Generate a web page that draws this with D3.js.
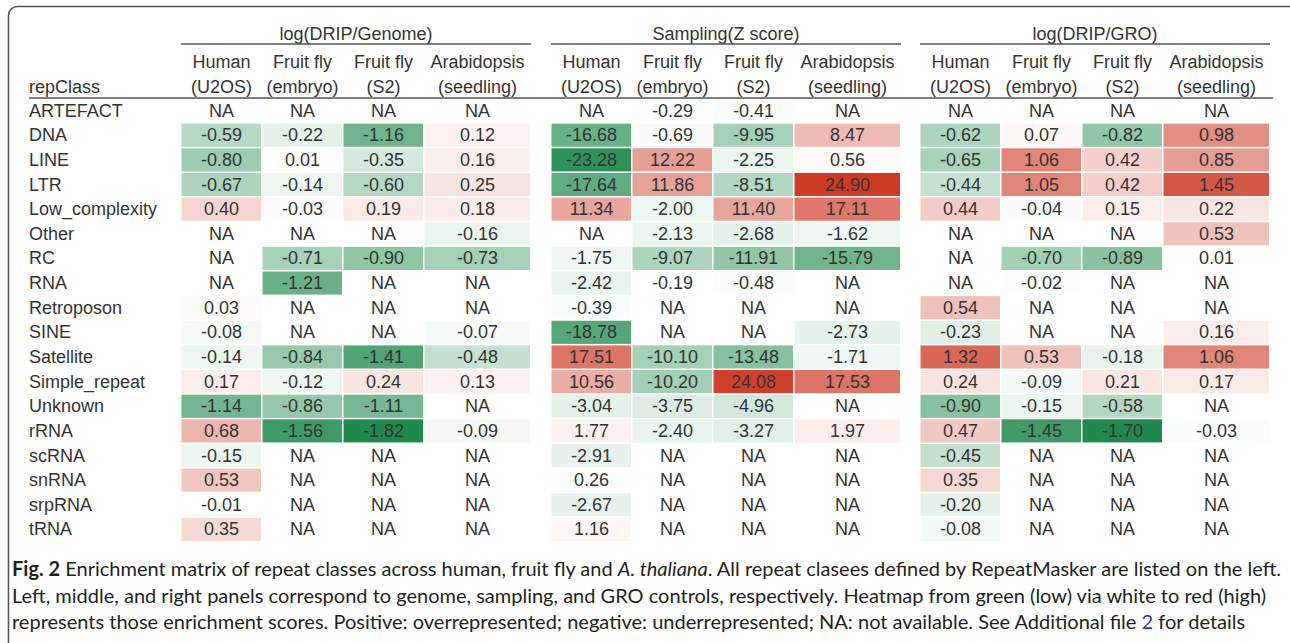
<!DOCTYPE html>
<html>
<head>
<meta charset="utf-8">
<script src="https://cdn.jsdelivr.net/npm/d3@7"></script>
<style>
  body { margin: 0; background: #fff; }
  svg { display: block; }
</style>
</head>
<body>
<script>
// Data (null = NA)
const repClasses = ["ARTEFACT", "DNA", "LINE", "LTR", "Low_complexity", "Other", "RC", "RNA",
  "Retroposon", "SINE", "Satellite", "Simple_repeat", "Unknown", "rRNA", "scRNA", "snRNA", "srpRNA", "tRNA"];

const panelTitles = ["log(DRIP/Genome)", "Sampling(Z score)", "log(DRIP/GRO)"];

const sampleLine1 = ["Human", "Fruit fly", "Fruit fly", "Arabidopsis"];
const sampleLine2 = ["(U2OS)", "(embryo)", "(S2)", "(seedling)"];

const genomeValues = [
  [null, null, null, null],
  [-0.59, -0.22, -1.16, 0.12],
  [-0.80, 0.01, -0.35, 0.16],
  [-0.67, -0.14, -0.60, 0.25],
  [0.40, -0.03, 0.19, 0.18],
  [null, null, null, -0.16],
  [null, -0.71, -0.90, -0.73],
  [null, -1.21, null, null],
  [0.03, null, null, null],
  [-0.08, null, null, -0.07],
  [-0.14, -0.84, -1.41, -0.48],
  [0.17, -0.12, 0.24, 0.13],
  [-1.14, -0.86, -1.11, null],
  [0.68, -1.56, -1.82, -0.09],
  [-0.15, null, null, null],
  [0.53, null, null, null],
  [-0.01, null, null, null],
  [0.35, null, null, null]
];

const samplingValues = [
  [null, -0.29, -0.41, null],
  [-16.68, -0.69, -9.95, 8.47],
  [-23.28, 12.22, -2.25, 0.56],
  [-17.64, 11.86, -8.51, 24.90],
  [11.34, -2.00, 11.40, 17.11],
  [null, -2.13, -2.68, -1.62],
  [-1.75, -9.07, -11.91, -15.79],
  [-2.42, -0.19, -0.48, null],
  [-0.39, null, null, null],
  [-18.78, null, null, -2.73],
  [17.51, -10.10, -13.48, -1.71],
  [10.56, -10.20, 24.08, 17.53],
  [-3.04, -3.75, -4.96, null],
  [1.77, -2.40, -3.27, 1.97],
  [-2.91, null, null, null],
  [0.26, null, null, null],
  [-2.67, null, null, null],
  [1.16, null, null, null]
];

const groValues = [
  [null, null, null, null],
  [-0.62, 0.07, -0.82, 0.98],
  [-0.65, 1.06, 0.42, 0.85],
  [-0.44, 1.05, 0.42, 1.45],
  [0.44, -0.04, 0.15, 0.22],
  [null, null, null, 0.53],
  [null, -0.70, -0.89, 0.01],
  [null, -0.02, null, null],
  [0.54, null, null, null],
  [-0.23, null, null, 0.16],
  [1.32, 0.53, -0.18, 1.06],
  [0.24, -0.09, 0.21, 0.17],
  [-0.90, -0.15, -0.58, null],
  [0.47, -1.45, -1.70, -0.03],
  [-0.45, null, null, null],
  [0.35, null, null, null],
  [-0.20, null, null, null],
  [-0.08, null, null, null]
];

const panels = [genomeValues, samplingValues, groValues];

// Layout
const width = 1290, height = 643;
const tableFont = "'Liberation Sans', Arial, Helvetica, sans-serif";
const textColor = "#333";
const panelStarts = [181, 551, 920];
const colWidths = [81, 81, 81, 107];   // arabidopsis column is wider
const labelX = 29, tableRight = 1273;
const headerRule = 98, tableBottom = 541.5;

const svg = d3.select("body").append("svg")
  .attr("width", width)
  .attr("height", height);

// rounded frame around the figure
svg.append("rect")
  .attr("x", 8.5).attr("y", 6.5)
  .attr("width", 1400).attr("height", 800)
  .attr("rx", 9)
  .attr("fill", "none")
  .attr("stroke", "#555")
  .attr("stroke-width", 1.5);

const y = d3.scaleBand()
  .domain(repClasses)
  .range([headerRule, tableBottom]);

// column offsets inside a panel
const colOffsets = d3.cumsum([0].concat(colWidths.slice(0, -1)));
const xCol = d3.scaleOrdinal().domain(d3.range(4)).range(colOffsets);
const wCol = d3.scaleOrdinal().domain(d3.range(4)).range(colWidths);
const panelWidth = d3.sum(colWidths);

// row labels
svg.append("text")
  .attr("x", labelX).attr("y", 87)
  .attr("dy", "0.35em")
  .attr("font-family", tableFont).attr("font-size", 18)
  .attr("fill", textColor)
  .text("repClass");

svg.append("g").selectAll("text")
  .data(repClasses)
  .join("text")
  .attr("x", labelX)
  .attr("y", d => y(d) + y.bandwidth() / 2)
  .attr("dy", "0.35em")
  .attr("font-family", tableFont).attr("font-size", 18)
  .attr("fill", textColor)
  .text(d => d);

// header rule
svg.append("line")
  .attr("x1", labelX).attr("x2", tableRight)
  .attr("y1", headerRule).attr("y2", headerRule)
  .attr("stroke", "#555").attr("stroke-width", 1.5);

panels.forEach((values, p) => {
  const x0 = panelStarts[p];
  const m = d3.max(values.flat(), v => v == null ? 0 : Math.abs(v));
  const color = d3.scaleLinear()
    .domain([-m, 0, m])
    .range(["#1f8a4c", "#ffffff", "#cd3b26"]);

  const g = svg.append("g").attr("transform", `translate(${x0},0)`);

  // panel title + underline
  g.append("text")
    .attr("x", panelWidth / 2).attr("y", 34)
    .attr("dy", "0.35em")
    .attr("text-anchor", "middle")
    .attr("font-family", tableFont).attr("font-size", 18)
    .attr("fill", textColor)
    .text(panelTitles[p]);
  g.append("line")
    .attr("x1", 0).attr("x2", panelWidth)
    .attr("y1", 44).attr("y2", 44)
    .attr("stroke", "#555").attr("stroke-width", 1.3);

  // column headers
  d3.range(4).forEach(c => {
    const cx = xCol(c) + wCol(c) / 2;
    g.append("text")
      .attr("x", cx).attr("y", 62).attr("dy", "0.35em")
      .attr("text-anchor", "middle")
      .attr("font-family", tableFont).attr("font-size", 18)
      .attr("fill", textColor)
      .text(sampleLine1[c]);
    g.append("text")
      .attr("x", cx).attr("y", 87).attr("dy", "0.35em")
      .attr("text-anchor", "middle")
      .attr("font-family", tableFont).attr("font-size", 18)
      .attr("fill", textColor)
      .text(sampleLine2[c]);
  });

  const cells = [];
  values.forEach((row, r) => row.forEach((v, c) => cells.push({ r: repClasses[r], c, v })));

  g.append("g").selectAll("rect")
    .data(cells.filter(d => d.v != null))
    .join("rect")
    .attr("x", d => xCol(d.c) + 0.5)
    .attr("y", d => y(d.r) + 1)
    .attr("width", d => wCol(d.c) - 1.5)
    .attr("height", y.bandwidth() - 1.5)
    .attr("fill", d => color(d.v));

  g.append("g").selectAll("text")
    .data(cells)
    .join("text")
    .attr("x", d => xCol(d.c) + wCol(d.c) / 2)
    .attr("y", d => y(d.r) + y.bandwidth() / 2)
    .attr("dy", "0.35em")
    .attr("text-anchor", "middle")
    .attr("font-family", tableFont).attr("font-size", 18)
    .attr("fill", textColor)
    .text(d => d.v == null ? "NA" : d3.format(".2f")(d.v).replace("−", "-"));
});

// caption
const capFont = "Lato, 'Open Sans', 'Noto Sans', sans-serif";
const capLines = [
  [{ t: "Fig. 2", b: true }, { t: " Enrichment matrix of repeat classes across human, fruit fly and " },
   { t: "A. thaliana", i: true }, { t: ". All repeat clasees defined by RepeatMasker are listed on the left." }],
  [{ t: "Left, middle, and right panels correspond to genome, sampling, and GRO controls, respectively. Heatmap from green (low) via white to red (high)" }],
  [{ t: "represents those enrichment scores. Positive: overrepresented; negative: underrepresented; NA: not available. See Additional file " },
   { t: "2", blue: true }, { t: " for details" }]
];
const capY = [576, 603, 629];

const capTexts = capLines.map((parts, i) => {
  const t = svg.append("text")
    .attr("x", 12).attr("y", capY[i])
    .attr("font-family", capFont).attr("font-size", 19)
    .attr("fill", "#231f20");
  parts.forEach(s => {
    t.append("tspan")
      .attr("font-weight", s.b ? "bold" : null)
      .attr("font-style", s.i ? "italic" : null)
      .attr("fill", s.blue ? "#1a3ccf" : null)
      .text(s.t);
  });
  return t;
});

// fit caption size so the second line spans the same width as in the figure
const measured = capTexts[1].node().getComputedTextLength();
const capSize = 19 * 1255 / measured;
capTexts.forEach(t => t.attr("font-size", capSize));
</script>
</body>
</html>
